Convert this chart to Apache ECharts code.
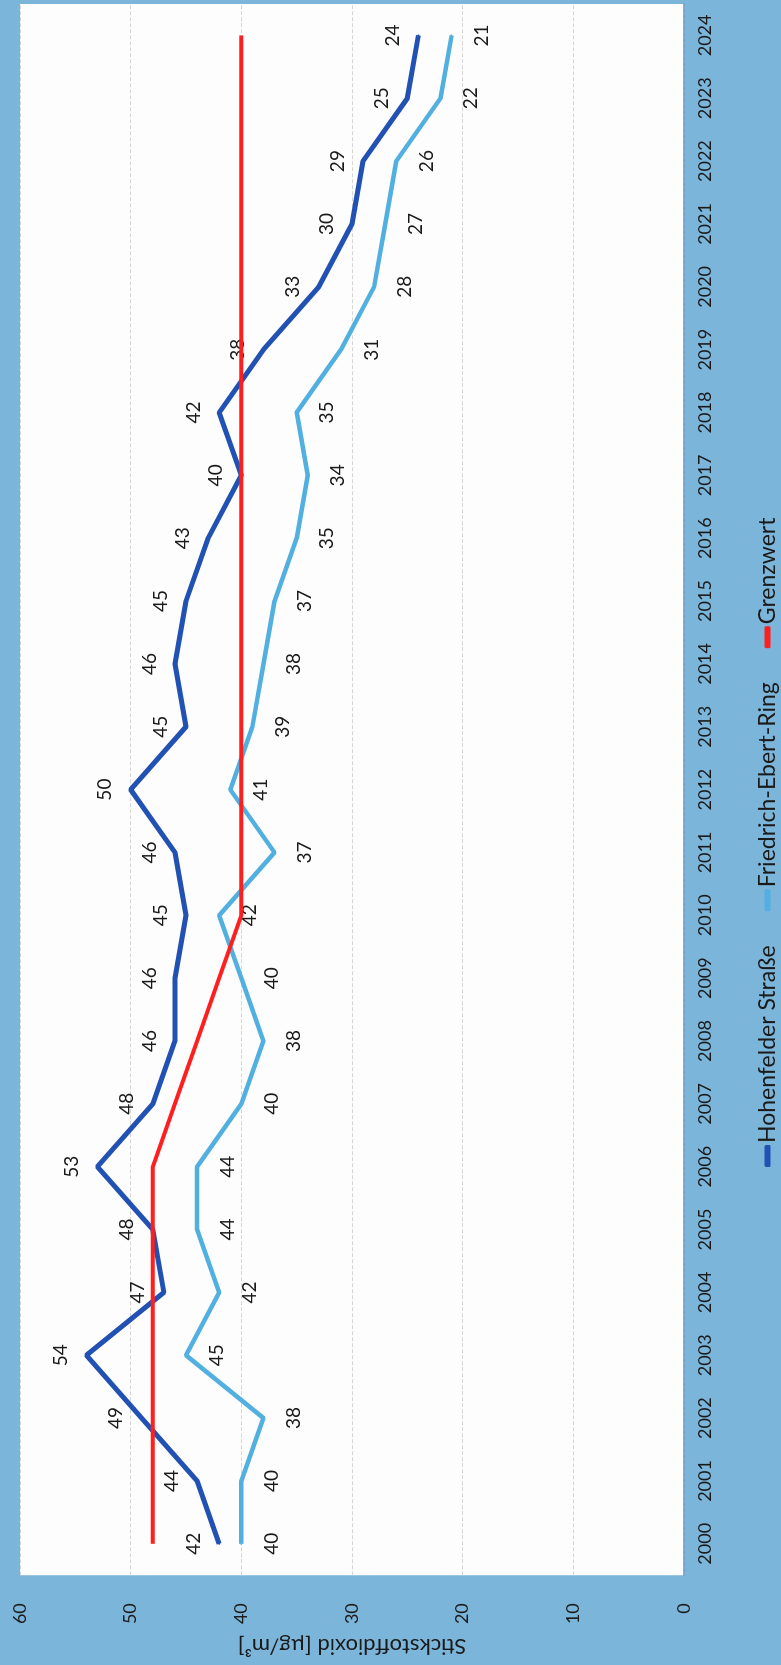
<!DOCTYPE html>
<html>
<head>
<meta charset="utf-8">
<script src="https://cdn.jsdelivr.net/npm/echarts@6/dist/echarts.min.js"></script>
<style>
  html, body { margin: 0; padding: 0; width: 781px; height: 1665px; overflow: hidden; background: #7cb5da; }
  #chart {
    position: absolute; left: 0; top: 0;
    width: 1665px; height: 781px;
    transform-origin: 0 0;
    transform: translate(0px, 1665px) rotate(-90deg);
  }
</style>
</head>
<body>
<div id="chart"></div>
<script>
const years = ['2000','2001','2002','2003','2004','2005','2006','2007','2008','2009','2010','2011','2012','2013','2014','2015','2016','2017','2018','2019','2020','2021','2022','2023','2024'];
const hohenfelder = [42,44,49,54,47,48,53,48,46,46,45,46,50,45,46,45,43,40,42,38,33,30,29,25,24];
const friedrich   = [40,40,38,45,42,44,44,40,38,40,42,37,41,39,38,37,35,34,35,31,28,27,26,22,21];
const grenzwert   = [48,48,48,48,48,48,48,46,44,42,40,40,40,40,40,40,40,40,40,40,40,40,40,40,40];
const seriesNames = ['Hohenfelder Straße','Friedrich-Ebert-Ring','Grenzwert'];
const axisTitle = 'Stickstoffdioxid [µg/m³]';

const FONT = 'Lato';
const chart = echarts.init(document.getElementById('chart'), null, {renderer: 'canvas'});
chart.setOption({
  animation: false,
  backgroundColor: '#7cb5da',
  textStyle: { fontFamily: FONT, color: '#1a1a1a' },
  grid: { left: 83, right: 4, top: 20, bottom: 97, show: true, backgroundColor: '#fdfdfd', borderWidth: 0 },
  legend: {
    data: seriesNames,
    left: 493, top: 751,
    icon: 'roundRect', itemWidth: 22, itemHeight: 6, itemGap: 34,
    textStyle: { fontFamily: FONT, fontSize: 23, color: '#1a1a1a', padding: [0,0,0,-3] }
  },
  xAxis: {
    type: 'category', data: years, boundaryGap: true,
    axisLine: { show: true, lineStyle: { color: '#5f97c6', width: 1.5 } },
    axisTick: { show: false },
    axisLabel: { fontFamily: FONT, fontSize: 18, color: '#1a1a1a', margin: 12 }
  },
  yAxis: {
    type: 'value', min: 0, max: 60, interval: 10,
    name: axisTitle, nameLocation: 'middle', nameRotate: 90, nameGap: 47,
    nameTextStyle: { fontFamily: FONT, fontSize: 22, color: '#1a1a1a' },
    axisLine: { show: false }, axisTick: { show: false },
    axisLabel: { fontFamily: FONT, fontSize: 18, color: '#1a1a1a', margin: 28 },
    splitLine: { show: true, lineStyle: { color: '#d6d6d6', width: 1, type: [4, 2] } }
  },
  series: [
    {
      name: seriesNames[0], type: 'line', data: hohenfelder,
      showSymbol: true, symbol: 'circle', symbolSize: 2,
      lineStyle: { color: '#2152b3', width: 5 }, itemStyle: { color: '#2152b3' },
      label: { show: true, position: 'top', distance: 15, fontFamily: FONT, fontSize: 19, color: '#1a1a1a' },
      z: 3
    },
    {
      name: seriesNames[1], type: 'line', data: friedrich,
      showSymbol: true, symbol: 'circle', symbolSize: 2,
      lineStyle: { color: '#52b0e0', width: 4.5 }, itemStyle: { color: '#52b0e0' },
      label: { show: true, position: 'bottom', distance: 20, fontFamily: FONT, fontSize: 19, color: '#1a1a1a' },
      z: 2
    },
    {
      name: seriesNames[2], type: 'line', data: grenzwert,
      showSymbol: false, symbol: 'none',
      lineStyle: { color: '#ff1f1f', width: 4 }, itemStyle: { color: '#ff1f1f' },
      label: { show: false },
      z: 4
    }
  ]
});
</script>
</body>
</html>
